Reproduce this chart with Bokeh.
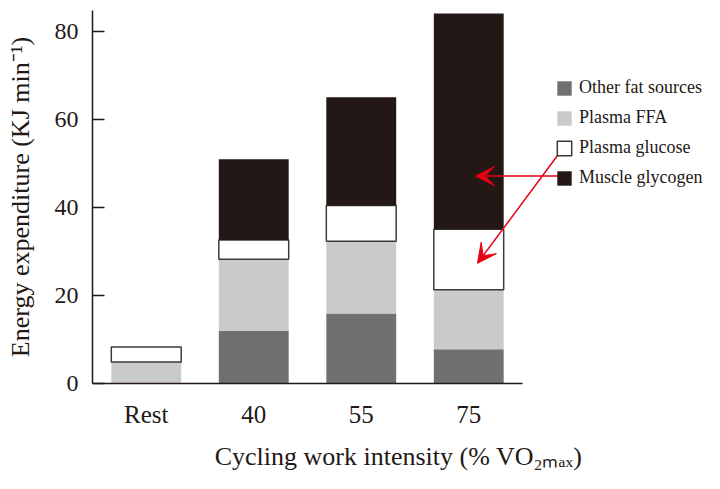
from bokeh.plotting import figure
from bokeh.models import (ColumnDataSource, Range1d, FixedTicker, Legend, LegendItem,
                          Arrow, VeeHead)
from bokeh.embed import file_html
from bokeh.resources import INLINE

# ---- data ----
categories = ["Rest", "40", "55", "75"]
other_fat = [0.0, 11.9, 15.9, 7.8]
plasma_ffa = [4.9, 16.3, 16.4, 13.5]
plasma_glucose = [3.4, 4.4, 8.1, 13.7]
muscle_glycogen = [0.0, 18.3, 24.6, 49.0]
series_names = ["Other fat sources", "Plasma FFA", "Plasma glucose", "Muscle glycogen"]
y_ticks = [0, 20, 40, 60, 80]

FONT = "Liberation Serif"
INK = "#231815"
RED = "#e60012"
colors = ["#717071", "#c9caca", "#ffffff", "#231815"]

xs = list(range(len(categories)))
source = ColumnDataSource(dict(x=xs, other=other_fat, ffa=plasma_ffa,
                               glucose=plasma_glucose, glycogen=muscle_glycogen))

p = figure(width=704, height=473, output_backend="svg", toolbar_location=None,
           x_range=Range1d(-0.5, 5.193), y_range=Range1d(0, 84.7),
           min_border_left=92, min_border_top=10, min_border_right=0, min_border_bottom=87)
p.outline_line_color = None
p.grid.visible = False
p.background_fill_color = "white"
p.border_fill_color = "white"

renderers = p.vbar_stack(["other", "ffa", "glucose", "glycogen"], x="x", width=0.65,
                         source=source, fill_color=colors,
                         line_color=[colors[0], colors[1], "#3e3a39", colors[3]],
                         line_alpha=[0, 0, 1, 0], line_width=1.5)

# axes
xa = p.xaxis[0]
xa.ticker = FixedTicker(ticks=xs)
xa.major_label_overrides = {i: c for i, c in enumerate(categories)}
xa.bounds = (-0.5, 3.5)
xa.major_tick_line_color = None
xa.minor_tick_line_color = None
xa.axis_line_color = INK
xa.axis_line_width = 1.5
xa.major_label_text_font = FONT
xa.major_label_text_font_size = "25px"
xa.major_label_text_color = INK
xa.major_label_standoff = 11
xa.axis_label = "Cycling work intensity (% VO₂ₘₐₓ)"
xa.axis_label_text_font = FONT
xa.axis_label_text_font_size = "26px"
xa.axis_label_text_font_style = "normal"
xa.axis_label_text_color = INK
xa.axis_label_standoff = 11

ya = p.yaxis[0]
ya.ticker = FixedTicker(ticks=y_ticks)
ya.major_tick_in = 12
ya.major_tick_out = 0
ya.major_tick_line_color = INK
ya.major_tick_line_width = 1.5
ya.minor_tick_line_color = None
ya.axis_line_color = INK
ya.axis_line_width = 1.5
ya.major_label_text_font = FONT
ya.major_label_text_font_size = "24px"
ya.major_label_text_color = INK
ya.major_label_standoff = 14
ya.axis_label = "Energy expenditure (KJ min⁻¹)"
ya.axis_label_text_font = FONT
ya.axis_label_text_font_size = "26px"
ya.axis_label_text_font_style = "normal"
ya.axis_label_text_color = INK
ya.axis_label_standoff = 17

legend = Legend(items=[LegendItem(label=n, renderers=[r]) for n, r in zip(series_names, renderers)],
                location=(463, 195), orientation="vertical",
                glyph_width=18, glyph_height=18, label_height=18, spacing=9,
                padding=0, margin=0, label_standoff=6,
                label_text_font=FONT, label_text_font_size="18px", label_text_color=INK,
                border_line_color=None, background_fill_alpha=0)
p.add_layout(legend)

# red arrows from the legend swatches into the 75% bar
p.add_layout(Arrow(x_start=3.909, y_start=47.1, x_end=3.063, y_end=47.1,
                   line_color=RED, line_width=1.5,
                   end=VeeHead(size=19, fill_color=RED, line_color=RED)))
p.add_layout(Arrow(x_start=3.881, y_start=53.6, x_end=3.081, y_end=27.3,
                   line_color=RED, line_width=1.5,
                   end=VeeHead(size=19, fill_color=RED, line_color=RED)))

open("out.html", "w").write(file_html(p, INLINE))
